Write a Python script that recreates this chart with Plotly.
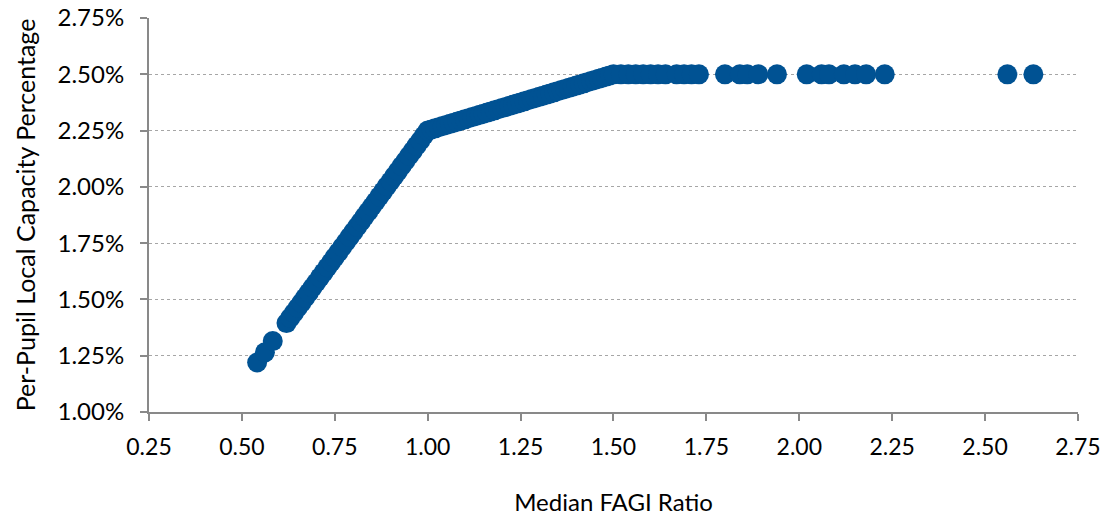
import plotly.graph_objects as go

# Median FAGI ratio (x) and per-pupil local capacity percentage (y, in %)
ratio_low = [0.541, 0.562, 0.583]
pct_low = [1.220, 1.265, 1.315]

ratio_rise = [0.62, 0.63, 0.64, 0.65, 0.66, 0.67, 0.68, 0.69, 0.70, 0.71,
              0.72, 0.73, 0.74, 0.75, 0.76, 0.77, 0.78, 0.79, 0.80, 0.81,
              0.82, 0.83, 0.84, 0.85, 0.86, 0.87, 0.88, 0.89, 0.90, 0.91,
              0.92, 0.93, 0.94, 0.95, 0.96, 0.97, 0.98, 0.99, 1.00]
pct_rise = [1.395, 1.418, 1.440, 1.463, 1.485, 1.508, 1.530, 1.553, 1.575, 1.598,
            1.620, 1.643, 1.665, 1.688, 1.710, 1.733, 1.755, 1.778, 1.800, 1.823,
            1.845, 1.868, 1.890, 1.913, 1.935, 1.958, 1.980, 2.003, 2.025, 2.048,
            2.070, 2.093, 2.115, 2.138, 2.160, 2.183, 2.205, 2.228, 2.250]

ratio_mid = [1.01, 1.02, 1.03, 1.04, 1.05, 1.06, 1.07, 1.08, 1.09, 1.10,
             1.11, 1.12, 1.13, 1.14, 1.15, 1.16, 1.17, 1.18, 1.19, 1.20,
             1.21, 1.22, 1.23, 1.24, 1.25, 1.26, 1.27, 1.28, 1.29, 1.30,
             1.31, 1.32, 1.33, 1.34, 1.35, 1.36, 1.37, 1.38, 1.39, 1.40,
             1.41, 1.42, 1.43, 1.44, 1.45, 1.46, 1.47, 1.48, 1.49, 1.50]
pct_mid = [2.255, 2.260, 2.265, 2.270, 2.275, 2.280, 2.285, 2.290, 2.295, 2.300,
           2.305, 2.310, 2.315, 2.320, 2.325, 2.330, 2.335, 2.340, 2.345, 2.350,
           2.355, 2.360, 2.365, 2.370, 2.375, 2.380, 2.385, 2.390, 2.395, 2.400,
           2.405, 2.410, 2.415, 2.420, 2.425, 2.430, 2.435, 2.440, 2.445, 2.450,
           2.455, 2.460, 2.465, 2.470, 2.475, 2.480, 2.485, 2.490, 2.495, 2.500]

ratio_cap = [1.52, 1.54, 1.56, 1.58, 1.60, 1.62, 1.64, 1.67, 1.69, 1.71, 1.73,
             1.80, 1.84, 1.86, 1.89, 1.94,
             2.02, 2.06, 2.08, 2.12, 2.15, 2.18, 2.23,
             2.56, 2.63]
pct_cap = [2.50, 2.50, 2.50, 2.50, 2.50, 2.50, 2.50, 2.50, 2.50, 2.50, 2.50,
           2.50, 2.50, 2.50, 2.50, 2.50,
           2.50, 2.50, 2.50, 2.50, 2.50, 2.50, 2.50,
           2.50, 2.50]

x_ticks = [0.25, 0.50, 0.75, 1.00, 1.25, 1.50, 1.75, 2.00, 2.25, 2.50, 2.75]
x_labels = ["0.25", "0.50", "0.75", "1.00", "1.25", "1.50", "1.75", "2.00", "2.25", "2.50", "2.75"]
y_ticks = [1.00, 1.25, 1.50, 1.75, 2.00, 2.25, 2.50, 2.75]
y_labels = ["1.00%", "1.25%", "1.50%", "1.75%", "2.00%", "2.25%", "2.50%", "2.75%"]

xs = ratio_low + ratio_rise + ratio_mid + ratio_cap
ys = pct_low + pct_rise + pct_mid + pct_cap

FONT = "Lato"
BLUE = "#005293"
AXIS = "#898989"

fig = go.Figure()
fig.add_trace(go.Scatter(
    x=xs, y=ys, mode="markers",
    marker=dict(size=20, color=BLUE, line=dict(width=0)),
    showlegend=False, hoverinfo="x+y",
))

fig.update_layout(
    width=1102, height=516,
    margin=dict(l=149, r=24, t=18, b=104, autoexpand=False),
    paper_bgcolor="white", plot_bgcolor="white",
    font=dict(family=FONT, size=24, color="#000000"),
)
fig.update_xaxes(
    range=[0.25, 2.7501], tickvals=x_ticks, ticktext=x_labels,
    showgrid=False, zeroline=False, automargin=False,
    showline=True, linecolor=AXIS, linewidth=2,
    ticks="outside", ticklen=7, tickcolor=AXIS, tickwidth=2,
    ticklabelstandoff=6, tickfont=dict(size=23), ticklabeloverflow="allow",
    title=dict(text="Median FAGI Ratio", standoff=37, font=dict(size=24)),
)
fig.update_yaxes(
    range=[1.0, 2.7501], tickvals=y_ticks, ticktext=y_labels,
    showgrid=True, gridcolor="#a6a6a6", griddash="dot", gridwidth=1,
    zeroline=False, automargin=False,
    showline=True, linecolor=AXIS, linewidth=2,
    ticks="outside", ticklen=7, tickcolor=AXIS, tickwidth=2,
    ticklabelstandoff=11, tickfont=dict(size=24), ticklabeloverflow="allow",
    title=dict(text="Per-Pupil Local Capacity Percentage", standoff=15, font=dict(size=25)),
)

# remove the browser's default 8px body margin so the figure fills the window
fig.write_html("out.html",
               config={"displayModeBar": False},
               post_script="document.body.style.margin='0';document.body.style.overflow='hidden';")
